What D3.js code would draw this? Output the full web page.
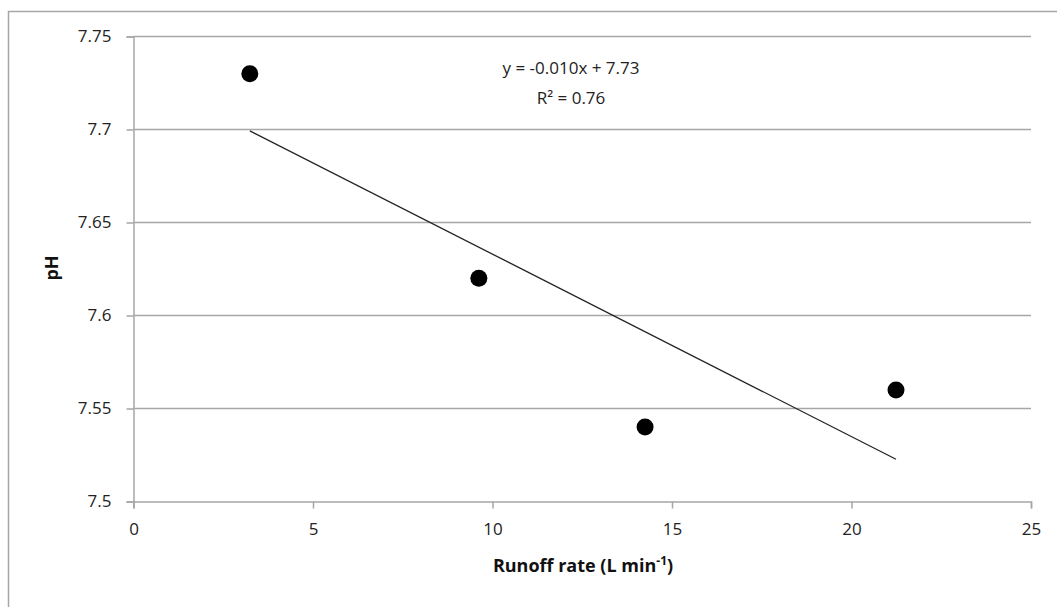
<!DOCTYPE html>
<html>
<head>
<meta charset="utf-8">
<script src="https://cdn.jsdelivr.net/npm/d3@7"></script>
<style>
  body { margin: 0; background: #fff; }
  text { font-family: "Open Sans", "Liberation Sans", sans-serif; }
</style>
</head>
<body>
<svg id="chart" width="1057" height="607"></svg>
<script>
// runoff rate (L/min) vs pH
let runoff = [3.24, 9.62, 14.25, 21.24];
let ph = [7.73, 7.62, 7.54, 7.56];
let xTicks = [0, 5, 10, 15, 20, 25];
let yTicks = [7.5, 7.55, 7.6, 7.65, 7.7, 7.75];
let eqLines = ['y = -0.010x + 7.73', 'R² = 0.76'];

let svg = d3.select('#chart');
let grey = '#a6a6a6';

// outer chart border (right/bottom fall outside the picture)
svg.append('rect')
    .attr('x', 8.5).attr('y', 11.5)
    .attr('width', 1060).attr('height', 610)
    .attr('fill', 'none').attr('stroke', grey).attr('stroke-width', 1.5);

let x = d3.scaleLinear().domain([0, 25]).range([133.5, 1031]);
let y = d3.scaleLinear().domain([7.5, 7.75]).range([501.5, 36.5]);

// gridlines
svg.append('g').selectAll('line')
    .data(yTicks.slice(1))
    .enter().append('line')
    .attr('x1', x(0)).attr('x2', x(25))
    .attr('y1', d => y(d)).attr('y2', d => y(d))
    .attr('stroke', grey).attr('stroke-width', 1.5);

let yAxis = svg.append('g')
    .attr('transform', 'translate(' + x(0) + ',0)')
    .call(d3.axisLeft(y).tickValues(yTicks).tickSize(7).tickPadding(15)
        .tickFormat(d => String(+d.toFixed(2))));

let xAxis = svg.append('g')
    .attr('transform', 'translate(0,' + y(7.5) + ')')
    .call(d3.axisBottom(x).tickValues(xTicks).tickSize(7).tickPadding(14));

[xAxis, yAxis].forEach(function(a) {
    a.select('.domain').attr('stroke', grey).attr('stroke-width', 1.5);
    a.selectAll('.tick line').attr('stroke', grey).attr('stroke-width', 1.5);
    a.selectAll('.tick text')
        .attr('fill', '#222')
        .style('font-size', '17px');
});

// linear trendline fitted to the points
let mx = d3.mean(runoff), my = d3.mean(ph);
let sxy = d3.sum(runoff, (v, i) => (v - mx) * (ph[i] - my));
let sxx = d3.sum(runoff, v => (v - mx) * (v - mx));
let slope = sxy / sxx;
let icpt = my - slope * mx;
let ext = d3.extent(runoff);
let line = d3.line()
    .x(d => x(d))
    .y(d => y(icpt + slope * d));
svg.append('path')
    .datum(ext)
    .attr('d', line)
    .attr('fill', 'none')
    .attr('stroke', '#222')
    .attr('stroke-width', 1.3);

// points
svg.append('g').selectAll('circle')
    .data(runoff)
    .enter().append('circle')
    .attr('cx', d => x(d))
    .attr('cy', (d, i) => y(ph[i]))
    .attr('r', 8.5)
    .attr('fill', '#000');

// equation label
svg.append('g').selectAll('text')
    .data(eqLines)
    .enter().append('text')
    .attr('x', 571)
    .attr('y', (d, i) => 74 + i * 30)
    .attr('text-anchor', 'middle')
    .attr('fill', '#222')
    .style('font-size', '17px')
    .text(d => d);

// axis titles
let xt = svg.append('text')
    .attr('x', 583).attr('y', 572)
    .attr('text-anchor', 'middle')
    .attr('fill', '#111')
    .style('font-size', '18px')
    .style('font-weight', 'bold')
    .text('Runoff rate (L min');
xt.append('tspan').attr('dy', -7).style('font-size', '12px').text('-1');
xt.append('tspan').attr('dy', 7).text(')');

svg.append('text')
    .attr('transform', 'translate(58,268) rotate(-90)')
    .attr('text-anchor', 'middle')
    .attr('fill', '#111')
    .style('font-size', '18px')
    .style('font-weight', 'bold')
    .text('pH');
</script>
</body>
</html>
